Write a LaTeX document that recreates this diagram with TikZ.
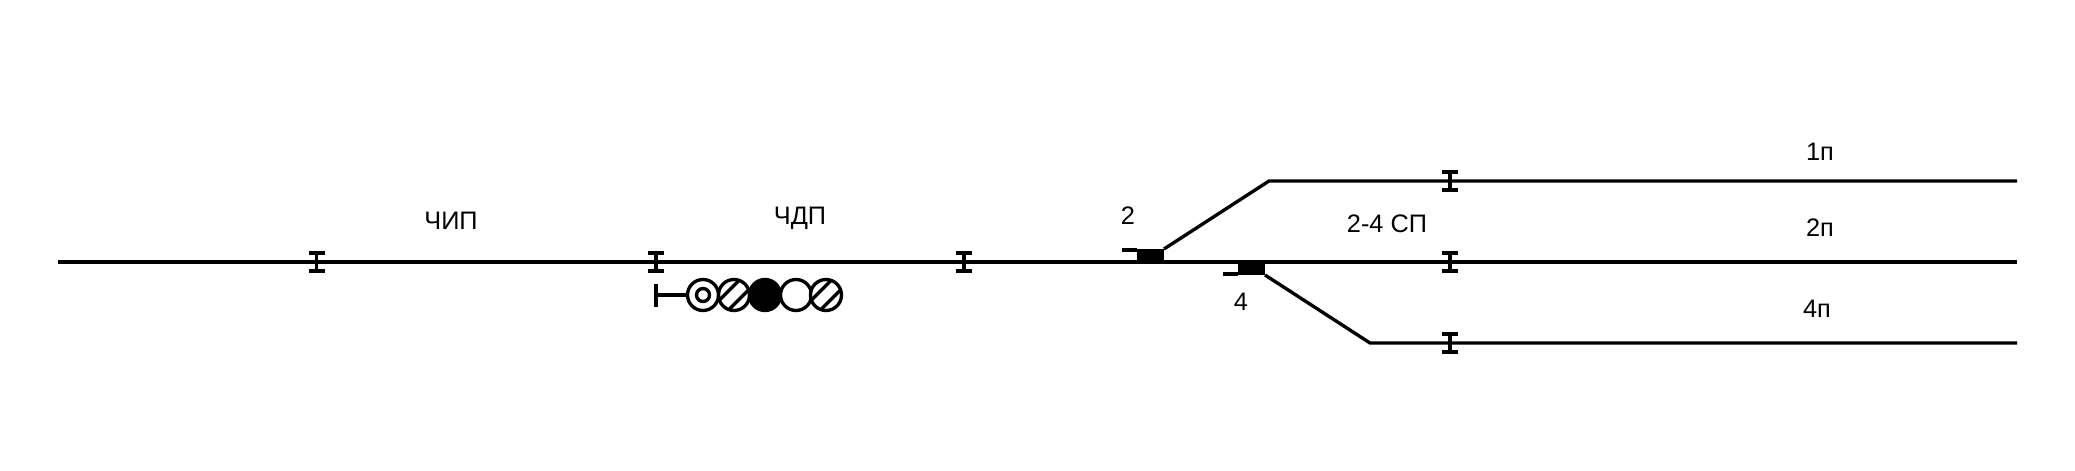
\documentclass[tikz,border=0pt]{standalone}
\usepackage{fontspec}
\setmainfont{Liberation Sans}
\usetikzlibrary{positioning}

\tikzset{
	rail/.style={line width=0.95pt},
	joint/.style={line width=1.05pt},
	tracklabel/.style={font=\fontsize{7.2}{9}\selectfont, inner sep=0pt},
	switchbar/.style={fill=black, inner sep=0pt, outer sep=0pt, minimum width=0.27cm, minimum height=0.13cm},
	lamp/.style={circle, draw, line width=0.95pt, fill=white, inner sep=0pt, outer sep=0pt, minimum size=0.31cm},
	hatchlamp/.style={lamp, path picture={
		\draw[line width=0.95pt] ([shift={(-0.2,-0.105)}]path picture bounding box.center) -- ++(0.3,0.3);
		\draw[line width=0.95pt] ([shift={(-0.105,-0.2)}]path picture bounding box.center) -- ++(0.3,0.3);
	}}
}

\begin{document}
\begin{tikzpicture}
	\useasboundingbox (0,0) rectangle (20.75,4.7);

	% Track ends and bends
	\coordinate (west) at (0.58,2.08);
	\coordinate (east2) at (20.17,2.08);
	\coordinate (east1) at (20.17,2.89);
	\coordinate (east4) at (20.17,1.27);
	\coordinate (bend1) at (12.69,2.89);
	\coordinate (bend4) at (13.7,1.27);

	% Switches
	\node[switchbar] (sw2) at (11.505,2.145) {};
	\node[switchbar] (sw4) at (12.515,2.015) {};
	\coordinate (flag2) at (11.22,2.2);
	\coordinate (flag4) at (12.23,1.96);

	% Tracks
	\draw[rail] (west) -- (east2);
	\draw[rail] (sw2.north east) -- (bend1) -- (east1);
	\draw[rail] (sw4.south east) -- (bend4) -- (east4);
	\draw[rail] (flag2) -- (flag2 -| sw2.west);
	\draw[rail] (flag4) -- (flag4 -| sw4.west);

	% Insulated joints
	\foreach \x/\y in {3.165/2.08, 6.56/2.08, 9.64/2.08, 14.5/2.89, 14.5/2.08, 14.5/1.27} {
		\draw[joint] (\x-0.08,\y+0.09) -- (\x+0.08,\y+0.09);
		\draw[joint] (\x-0.08,\y-0.09) -- (\x+0.08,\y-0.09);
		\draw[joint] (\x,\y-0.09) -- (\x,\y+0.09);
	}

	% Signal
	\coordinate (post) at (6.56,1.75);
	\draw[rail] (6.56,1.635) -- (6.56,1.865);
	\node[lamp] (lampA) at (7.03,1.75) {};
	\node[hatchlamp] (lampB) at (7.34,1.75) {};
	\node[lamp, fill=black] (lampC) at (7.65,1.75) {};
	\node[lamp] (lampD) at (7.96,1.75) {};
	\node[hatchlamp] (lampE) at (8.26,1.75) {};
	\node[circle, draw, line width=0.95pt, inner sep=0pt, minimum size=0.13cm] (lampAin) at (lampA) {};
	\draw[rail] (post) -- (lampA.west);

	% Labels
	\node[tracklabel] (chip) at (4.51,2.49) {ЧИП};
	\node[tracklabel] (chdp) at (8.0,2.52) {ЧДП};
	\node[tracklabel] (lab2) at (11.28,2.54) {2};
	\node[tracklabel] (lab4) at (12.41,1.68) {4};
	\node[tracklabel] (lab24) at (13.87,2.46) {2-4 СП};
	\node[tracklabel] (lab1p) at (18.2,3.18) {1п};
	\node[tracklabel] (lab2p) at (18.2,2.42) {2п};
	\node[tracklabel] (lab4p) at (18.17,1.61) {4п};
\end{tikzpicture}
\end{document}
